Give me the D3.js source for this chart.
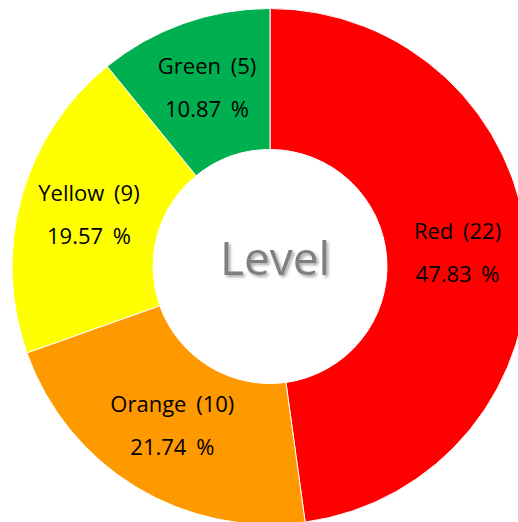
<!DOCTYPE html>
<html>
<head>
<meta charset="utf-8">
<script src="https://cdn.jsdelivr.net/npm/d3@7"></script>
<style>
  body { margin: 0; background: #fff; }
</style>
</head>
<body>
<script>
// data
var categories = ["Red", "Orange", "Yellow", "Green"];
var counts = [22, 10, 9, 5];
var colors = ["#ff0000", "#ff9900", "#ffff00", "#00b050"];
var title = "Level";

var width = 518, height = 522;
var cx = 270, cy = 266.5;
var outerR = 258, innerR = 117;
var labelR = 188;

var svg = d3.select("body").append("svg")
    .attr("width", width)
    .attr("height", height);

// soft shadow for the centre title
var defs = svg.append("defs");
var filter = defs.append("filter")
    .attr("id", "shadow")
    .attr("x", "-20%").attr("y", "-20%")
    .attr("width", "140%").attr("height", "140%");
filter.append("feGaussianBlur")
    .attr("in", "SourceAlpha")
    .attr("stdDeviation", 1.5)
    .attr("result", "blur");
filter.append("feOffset")
    .attr("in", "blur")
    .attr("dx", 2).attr("dy", 2)
    .attr("result", "offsetBlur");
filter.append("feComponentTransfer")
    .attr("in", "offsetBlur")
    .attr("result", "soft")
    .append("feFuncA").attr("type", "linear").attr("slope", 0.35);
var feMerge = filter.append("feMerge");
feMerge.append("feMergeNode").attr("in", "soft");
feMerge.append("feMergeNode").attr("in", "SourceGraphic");

var total = d3.sum(counts);
var rows = categories.map(function(c, i) {
  return {name: c, value: counts[i], color: colors[i]};
});

var pie = d3.pie()
    .sort(null)
    .value(function(d) { return d.value; });

var arc = d3.arc()
    .innerRadius(innerR)
    .outerRadius(outerR);

var labelArc = d3.arc()
    .innerRadius(labelR)
    .outerRadius(labelR);

var g = svg.append("g")
    .attr("transform", "translate(" + cx + "," + cy + ")");

var slices = pie(rows);

g.selectAll("path.slice")
    .data(slices)
    .enter().append("path")
    .attr("class", "slice")
    .attr("d", arc)
    .attr("fill", function(d) { return d.data.color; })
    .attr("stroke", "#fff")
    .attr("stroke-width", 1);

var labels = g.selectAll("text.lbl")
    .data(slices)
    .enter().append("text")
    .attr("class", "lbl")
    .attr("transform", function(d) { return "translate(" + labelArc.centroid(d) + ")"; })
    .attr("text-anchor", "middle")
    .attr("font-family", "'Open Sans', sans-serif")
    .style("font-size", "22px")
    .style("word-spacing", "4px")
    .attr("fill", "#000");

labels.append("tspan")
    .attr("x", 0)
    .attr("y", -15)
    .text(function(d) { return d.data.name + " (" + d.data.value + ")"; });

labels.append("tspan")
    .attr("x", 0)
    .attr("y", 28)
    .text(function(d) { return (d.data.value / total * 100).toFixed(2) + " %"; });

g.append("text")
    .attr("x", 5)
    .attr("y", 8.5)
    .attr("text-anchor", "middle")
    .attr("font-family", "'Open Sans', sans-serif")
    .style("font-size", "46px")
    .style("font-weight", "500")
    .attr("fill", "#7f7f7f")
    .style("filter", "url(#shadow)")
    .text(title);
</script>
</body>
</html>
